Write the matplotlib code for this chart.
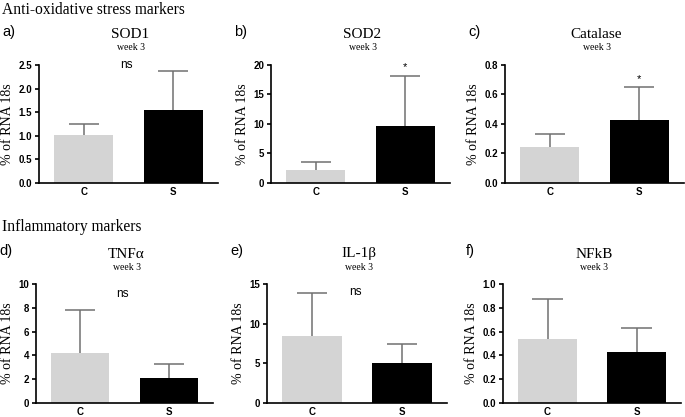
import numpy as np
import matplotlib
matplotlib.use('Agg')
import matplotlib.pyplot as plt

groups = ['C', 'S']
titles = ['SOD1', 'SOD2', 'Catalase', 'TNF\u03b1', 'IL-1\u03b2', 'NFkB']
letters = ['a)', 'b)', 'c)', 'd)', 'e)', 'f)']
means = [[1.02, 1.54], [2.2, 9.6], [0.245, 0.43],
         [4.2, 2.1], [8.4, 5.1], [0.54, 0.43]]
upper = [[1.24, 2.37], [3.6, 18.2], [0.335, 0.65],
         [7.8, 3.3], [13.9, 7.4], [0.87, 0.63]]
ymax = [2.5, 20, 0.8, 10, 15, 1.0]
yticks = [[0, 0.5, 1.0, 1.5, 2.0, 2.5], [0, 5, 10, 15, 20],
          [0, 0.2, 0.4, 0.6, 0.8], [0, 2, 4, 6, 8, 10],
          [0, 5, 10, 15], [0, 0.2, 0.4, 0.6, 0.8, 1.0]]
tickfmt = ['{:.1f}', '{:.0f}', '{:.1f}', '{:.0f}', '{:.0f}', '{:.1f}']
marks = ['ns', '*', '*', 'ns', 'ns', '']
ns_y = [2.5, 0, 0, 9.15, 14.0, 0]
sections = ['Anti-oxidative stress markers', 'Inflammatory markers']

W, H = 685, 417
fig = plt.figure(figsize=(6.85, 4.17), dpi=100)

# pixel boxes: left, top, right, bottom
boxes = [(39, 65, 218, 183), (271, 65, 450, 183), (505, 65, 684, 183),
         (36, 284, 213, 403), (267, 284, 447, 403), (503, 284, 681, 403)]
serif = 'Liberation Serif'
sans = 'Liberation Sans'

for i in range(6):
    l, t, r, b = boxes[i]
    ax = fig.add_axes([l / W, 1 - b / H, (r - l) / W, (b - t) / H])
    x = np.arange(2)
    m = np.array(means[i])
    up = np.array(upper[i])
    # upper-only error bars
    ax.vlines(x, m, up, color='#707070', lw=1.1, zorder=1)
    ax.hlines(up, x - 0.17, x + 0.17, color='#707070', lw=1.1, zorder=1)
    ax.bar(x, m, width=0.66, color=['#d4d4d4', 'black'], edgecolor='none', zorder=2)
    ax.set_xlim(-0.5, 1.5)
    ax.set_ylim(0, ymax[i])
    ax.set_yticks(yticks[i])
    ax.set_yticklabels([tickfmt[i].format(v) for v in yticks[i]],
                       fontfamily=sans, fontweight='bold', fontsize=7)
    ax.set_xticks(x)
    ax.set_xticklabels(groups, fontfamily=sans, fontweight='bold', fontsize=7)
    ax.spines['top'].set_visible(False)
    ax.spines['right'].set_visible(False)
    for s in ['left', 'bottom']:
        ax.spines[s].set_linewidth(1.2)
    ax.tick_params(axis='both', length=3, width=1.2, pad=2)
    ax.tick_params(axis='x', length=0, pad=3)
    ax.set_ylabel('% of RNA 18s', fontfamily=serif, fontsize=10, labelpad=3)
    if marks[i] == '*':
        ax.text(1, upper[i][1] + ymax[i] * 0.03, '*', ha='center', va='bottom',
                fontfamily=sans, fontsize=8)
    elif marks[i] == 'ns':
        ax.text(0.48, ns_y[i], 'ns', ha='center', va='center',
                fontfamily=sans, fontsize=8.5)
    cx = (l + r) / 2 / W
    fig.text(cx + 0.003, 1 - (t - 30) / H, titles[i], ha='center', va='center',
             fontfamily=serif, fontsize=11)
    fig.text(cx + 0.003, 1 - (t - 17) / H, 'week 3', ha='center', va='center',
             fontfamily=serif, fontsize=7)
    fig.text((l - 37) / W, 1 - (t - 33) / H, letters[i], ha='left', va='center',
             fontfamily=sans, fontsize=10.5)

fig.text(2 / W, 1 - 10 / H, sections[0], ha='left', va='center',
         fontfamily=serif, fontsize=11.2)
fig.text(2 / W, 1 - 227 / H, sections[1], ha='left', va='center',
         fontfamily=serif, fontsize=11.2)

fig.savefig('out.png', dpi=100)
